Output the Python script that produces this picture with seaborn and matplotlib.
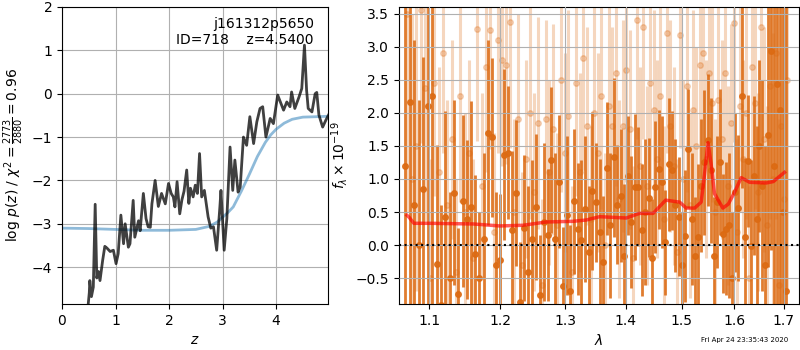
import numpy as np
import matplotlib
matplotlib.use("Agg")
import matplotlib.pyplot as plt
import seaborn as sns
from matplotlib.ticker import NullLocator, FixedLocator, FixedFormatter

# --- p(z) panel ---
z_grid = [0.49, 0.51, 0.52, 0.55, 0.585, 0.62, 0.65, 0.68, 0.71, 0.76, 0.80, 0.84,
          0.90, 0.96, 1.01, 1.05, 1.10, 1.15, 1.18, 1.24, 1.27, 1.33, 1.36, 1.43,
          1.46, 1.52, 1.57, 1.61, 1.65, 1.68, 1.74, 1.80, 1.86, 1.93, 1.99, 2.04,
          2.08, 2.11, 2.15, 2.20, 2.24, 2.28, 2.33, 2.37, 2.40, 2.45, 2.49, 2.53,
          2.57, 2.61, 2.66, 2.73, 2.78, 2.83, 2.89, 2.95, 2.97, 3.03, 3.08, 3.14,
          3.19, 3.23, 3.29, 3.33, 3.39, 3.45, 3.51, 3.58, 3.64, 3.70, 3.75, 3.81,
          3.89, 3.95, 4.03, 4.08, 4.14, 4.20, 4.26, 4.29, 4.35, 4.43, 4.48, 4.53,
          4.57, 4.60, 4.67, 4.73, 4.76, 4.80, 4.87, 4.93, 4.98]
log_pz = [-4.85, -4.59, -4.31, -4.68, -4.46, -2.55, -4.25, -4.10, -4.31, -3.84, -3.52, -3.56,
          -3.64, -3.61, -3.92, -3.69, -2.80, -3.46, -3.00, -3.54, -3.46, -2.46, -3.31, -2.93,
          -3.16, -2.30, -2.88, -3.07, -3.08, -2.54, -2.00, -2.60, -2.30, -2.54, -2.07, -2.30,
          -2.38, -2.61, -2.03, -2.77, -2.45, -2.25, -1.76, -2.53, -2.18, -2.38, -2.11, -2.30,
          -1.38, -2.38, -2.23, -2.84, -3.10, -3.07, -3.61, -2.61, -2.23, -3.61, -2.88, -1.23,
          -2.23, -1.53, -2.27, -2.15, -1.00, -1.19, -0.53, -1.15, -0.65, -0.34, -0.30, -1.00,
          -0.57, -0.69, -0.03, -0.19, -0.38, -0.19, -0.30, 0.04, -0.34, -0.07, 0.12, 1.12,
          0.08, -0.34, -0.42, 0.00, 0.03, -0.49, -0.77, -0.61, -0.49]

z_prior = [0.0, 0.5, 1.0, 1.5, 2.0, 2.5, 2.75, 2.9, 3.0, 3.1, 3.2, 3.35, 3.5, 3.65,
           3.8, 3.9, 4.0, 4.15, 4.3, 4.5, 4.75, 4.97]
log_prior = [-3.10, -3.11, -3.13, -3.15, -3.15, -3.13, -3.06, -2.96, -2.85, -2.74, -2.61,
             -2.25, -1.86, -1.45, -1.12, -0.95, -0.82, -0.68, -0.59, -0.54, -0.53, -0.52]

# --- spectrum panel ---
wave_a = [1.068, 1.074, 1.080, 1.086, 1.092, 1.098, 1.104, 1.110, 1.116, 1.122, 1.128, 1.134,
          1.140, 1.146, 1.152, 1.158, 1.164, 1.170, 1.176, 1.182, 1.188, 1.194, 1.200, 1.206,
          1.212, 1.218, 1.224, 1.230, 1.236, 1.242, 1.248, 1.254, 1.260, 1.266, 1.272, 1.278,
          1.284, 1.290, 1.296, 1.302, 1.308, 1.314, 1.320, 1.326, 1.332, 1.338, 1.344, 1.350,
          1.356, 1.362, 1.368, 1.374, 1.380, 1.386, 1.392, 1.398, 1.404, 1.410, 1.416, 1.422,
          1.428, 1.434, 1.440, 1.446, 1.452, 1.458, 1.464, 1.470, 1.476, 1.482, 1.488, 1.494,
          1.500, 1.506, 1.512, 1.518, 1.524, 1.530, 1.536, 1.542, 1.548, 1.554, 1.560, 1.566,
          1.572, 1.578, 1.584, 1.590, 1.596, 1.602, 1.608, 1.614, 1.620, 1.626, 1.632, 1.638,
          1.644, 1.650, 1.656, 1.662, 1.668, 1.674, 1.680, 1.686, 1.692, 1.698, 1.704]
flux_a = [1.2, 2.17, 0.6, 0.0, 0.85, 2.1, 2.26, -0.28, -0.9, 0.43, -0.5, 0.79,
          -0.74, 0.67, 0.39, 0.58, -0.14, -0.5, 0.1, 1.70, 1.63, -0.30, -0.22, 1.37,
          1.40, 0.23, 0.79, -0.86, 0.26, -0.4, 0.09, 0.58, -0.75, 0.35, 0.15, 1.29,
          0.10, 0.96, -0.62, 0.45, -0.7, 0.66, 0.24, 0.08, 0.55, -0.1, 0.82, 0.65,
          0.2, -0.25, 1.16, 0.30, 1.33, 0.61, 0.75, -0.17, 1.05, 0.35, 0.88, 0.88,
          0.23, 0.5, 0.72, -0.2, 0.88, 1.15, 0.95, 0.04, 1.22, 1.13, 0.6, 0.43,
          -0.3, 0.14, 1.46, 0.40, -0.17, 0.12, 0.9, 1.25, 1.59, 1.13, -0.17, 0.65,
          1.26, 0.17, 0.25, 0.30, -0.5, 0.80, 0.56, 2.26, 0.12, 1.27, -0.02, 1.05,
          0.4, 1.5, 0.9, -0.3, 1.67, 2.93, 1.2, 2.44, 2.04, 0.5, -0.70]
err_a = [4.0, 3.5, 2.5, 2.2, 2.0, 3.0, 3.2, 1.8, 1.5, 1.6, 1.3, 1.4,
         1.0, 1.3, 1.2, 1.6, 1.2, 1.0, 1.3, 1.4, 1.2, 1.1, 1.0, 1.3,
         1.0, 1.2, 1.1, 0.9, 1.1, 1.3, 1.2, 1.1, 0.9, 1.2, 1.0, 1.1,
         1.3, 1.0, 0.9, 1.2, 1.0, 1.1, 1.0, 1.2, 1.1, 1.0, 1.2, 0.9,
         1.1, 1.0, 1.0, 1.1, 1.2, 0.9, 1.0, 1.1, 0.9, 1.0, 1.1, 0.9,
         1.0, 1.1, 0.9, 0.9, 1.0, 0.9, 1.0, 0.8, 1.0, 0.9, 1.0, 0.9,
         0.8, 1.0, 0.9, 1.0, 0.9, 1.1, 1.0, 1.1, 1.0, 1.1, 0.9, 1.0,
         1.1, 0.9, 1.0, 1.1, 1.0, 1.2, 1.1, 1.4, 1.2, 1.0, 1.3, 1.2,
         1.4, 1.3, 1.6, 1.8, 2.0, 3.0, 3.5, 3.5, 4.0, 4.0, 4.5]

wave_b = [1.071, 1.077, 1.083, 1.089, 1.095, 1.101, 1.107, 1.113, 1.119, 1.125, 1.131, 1.137,
          1.143, 1.149, 1.155, 1.161, 1.167, 1.173, 1.179, 1.185, 1.191, 1.197, 1.203, 1.209,
          1.215, 1.221, 1.227, 1.233, 1.239, 1.245, 1.251, 1.257, 1.263, 1.269, 1.275, 1.281,
          1.287, 1.293, 1.299, 1.305, 1.311, 1.317, 1.323, 1.329, 1.335, 1.341, 1.347, 1.353,
          1.359, 1.365, 1.371, 1.377, 1.383, 1.389, 1.395, 1.401, 1.407, 1.413, 1.419, 1.425,
          1.431, 1.437, 1.443, 1.449, 1.455, 1.461, 1.467, 1.473, 1.479, 1.485, 1.491, 1.497,
          1.503, 1.509, 1.515, 1.521, 1.527, 1.533, 1.539, 1.545, 1.551, 1.557, 1.563, 1.569,
          1.575, 1.581, 1.587, 1.593, 1.599, 1.605, 1.611, 1.617, 1.623, 1.629, 1.635, 1.641,
          1.647, 1.653, 1.659, 1.665, 1.671, 1.677, 1.683, 1.689, 1.695, 1.701, 1.707]
flux_b = [3.5, 1.0, 1.5, 3.55, 2.37, -0.5, 2.45, 1.1, 2.9, 0.6, 1.6, -0.4,
          2.25, 0.5, 1.4, -0.2, 3.27, 0.9, 2.7, 3.25, 0.2, 3.1, 2.8, 2.72,
          3.37, 0.5, 1.9, -0.3, 1.3, 2.0, 0.8, 1.85, -0.6, 1.9, 1.1, 1.75,
          0.3, 2.5, 1.4, 1.95, -0.4, 2.45, 1.1, 2.83, 1.8, 0.4, 2.0, 1.4,
          2.25, 0.0, 2.1, 1.8, 2.6, 0.7, 1.8, 2.65, 1.75, -0.2, 3.4, 1.2,
          3.3, 0.9, 2.45, 2.05, 1.3, 2.25, 0.4, 3.2, 1.8, 1.2, -0.1, 3.17,
          1.0, 2.4, 0.6, 2.05, 1.5, 2.73, 2.9, 1.3, 2.6, 2.15, 0.5, 2.2,
          1.6, 2.6, 0.9, 1.85, 3.36, 0.2, 2.1, 1.3, 2.0, -0.5, 2.7, 2.15,
          0.8, 3.3, 1.6, 0.3, 2.4, 1.0, 2.9, -0.6, 1.8, 0.7, 2.5]
err_b = [3.0, 2.5, 2.2, 2.0, 2.0, 1.8, 1.7, 1.6, 1.5, 1.6, 1.5, 1.4,
         1.6, 1.5, 1.4, 1.5, 1.7, 1.4, 1.6, 1.8, 1.5, 1.7, 1.6, 1.5,
         1.9, 1.4, 1.6, 1.4, 1.5, 1.6, 1.5, 1.6, 1.3, 1.5, 1.4, 1.6,
         1.4, 1.7, 1.5, 1.6, 1.3, 1.7, 1.5, 1.7, 1.5, 1.4, 1.6, 1.5,
         1.7, 1.4, 1.6, 1.5, 1.7, 1.5, 1.6, 1.7, 1.5, 1.4, 1.8, 1.5,
         1.7, 1.5, 1.6, 1.5, 1.5, 1.6, 1.4, 1.8, 1.6, 1.5, 1.4, 1.7,
         1.5, 1.6, 1.4, 1.5, 1.5, 1.7, 1.6, 1.5, 1.6, 1.5, 1.4, 1.6,
         1.5, 1.6, 1.5, 1.5, 1.8, 1.4, 1.6, 1.5, 1.6, 1.4, 1.7, 1.6,
         1.5, 1.8, 1.7, 1.8, 2.0, 2.2, 2.5, 2.5, 2.8, 3.0, 3.2]

wave_model = [1.0705, 1.0733, 1.0795, 1.101, 1.161, 1.1996, 1.234, 1.270, 1.3125, 1.334,
              1.356, 1.401, 1.424, 1.448, 1.4705, 1.496, 1.508, 1.5237, 1.536, 1.5425,
              1.549, 1.555, 1.5613, 1.5774, 1.588, 1.6003, 1.6134, 1.6301, 1.6637, 1.678, 1.7014]
flux_model = [0.45, 0.42, 0.33, 0.33, 0.32, 0.29, 0.30, 0.35, 0.36, 0.38,
              0.43, 0.41, 0.48, 0.48, 0.68, 0.65, 0.56, 0.56, 0.65, 1.08,
              1.55, 1.22, 0.78, 0.56, 0.62, 0.80, 1.02, 0.95, 0.94, 0.96, 1.10]

wave_ticks = [1.1, 1.2, 1.3, 1.4, 1.5, 1.6, 1.7]

orange = '#dc6a12'

fig = plt.figure(figsize=(8, 3.5), dpi=100)
ax1 = fig.add_axes([62 / 800, 46 / 350, 266 / 800, 297 / 350])
ax2 = fig.add_axes([399 / 800, 46 / 350, 400 / 800, 297 / 350])

sns.lineplot(x=z_prior, y=log_prior, ax=ax1, color='tab:blue', alpha=0.5, lw=2)
sns.lineplot(x=z_grid, y=log_pz, ax=ax1, color='k', alpha=0.75, lw=2)
ax1.set_xlim(0, 4.97)
ax1.set_ylim(-4.85, 2.0)
ax1.set_xticks([0, 1, 2, 3, 4])
ax1.set_yticks([-4, -3, -2, -1, 0, 1, 2])
ax1.grid(True)
ax1.set_xlabel('$z$')
ax1.set_ylabel(r'log $p(z)$ / $\chi^2=\frac{2773}{2880}=0.96$')
ax1.text(0.947, 0.967, 'j161312p5650\nID=718    z=4.5400', transform=ax1.transAxes,
         ha='right', va='top', fontsize=10)

ax2.set_axisbelow(False)
ax2.errorbar(wave_b, flux_b, yerr=err_b, fmt='o', ms=4, color=orange, alpha=0.27,
             elinewidth=2.2, capsize=0, zorder=1)
ax2.errorbar(wave_a, flux_a, yerr=err_a, fmt='o', ms=4, color=orange, alpha=0.88,
             elinewidth=2.0, capsize=0, zorder=1.5)
sns.lineplot(x=wave_model, y=flux_model, ax=ax2, color='red', alpha=0.65, lw=2.5, zorder=4)
ax2.axhline(0, color='k', linestyle=':', lw=1.5, zorder=5)
ax2.set_xscale('log')
ax2.set_xlim(1.060, 1.732)
ax2.set_ylim(-0.89, 3.6)
ax2.xaxis.set_major_locator(FixedLocator(wave_ticks))
ax2.xaxis.set_major_formatter(FixedFormatter([f'{w:.1f}' for w in wave_ticks]))
ax2.xaxis.set_minor_locator(NullLocator())
ax2.set_yticks([-0.5, 0.0, 0.5, 1.0, 1.5, 2.0, 2.5, 3.0, 3.5])
ax2.grid(True)
ax2.set_xlabel(r'$\lambda$')
ax2.set_ylabel(r'$f_\lambda\times10^{-19}$')

fig.text(0.985, 0.02, 'Fri Apr 24 23:35:43 2020', ha='right', va='bottom', fontsize=5)

fig.savefig('out.png', dpi=100)
